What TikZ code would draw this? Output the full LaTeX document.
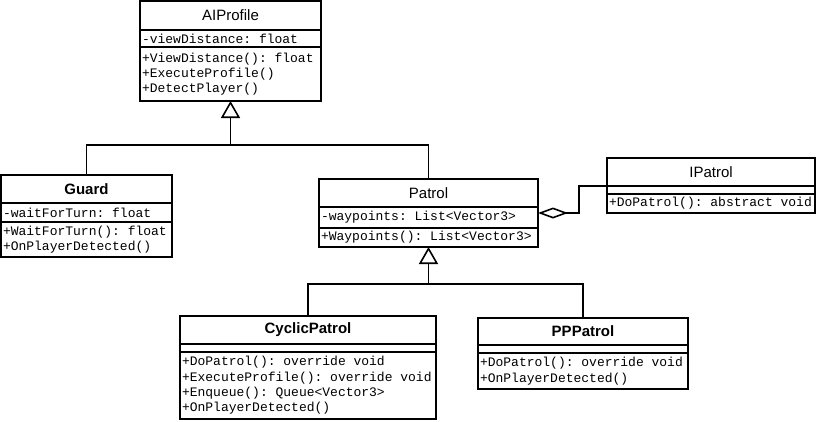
\documentclass[tikz,border=0pt]{standalone}
\usepackage{fontspec}
\setmainfont{Liberation Sans}
\setmonofont{Liberation Mono}
\usetikzlibrary{positioning,arrows.meta}

\tikzset{
  umlname/.style={draw, line width=1.6pt, outer sep=0pt, anchor=north west, font=\fontsize{15}{18}\selectfont},
  umlpart/.style={draw, line width=1.6pt, outer sep=0pt, inner xsep=2pt, inner ysep=2pt, align=flush left, font=\ttfamily\fontsize{13}{15.3}\selectfont\frenchspacing},
  link/.style={line width=1.6pt},
  inherit/.style={link, -{Triangle[open, length=17pt, width=19pt]}},
  aggregate/.style={link, -{Diamond[open, length=30pt, width=11pt]}},
}

\begin{document}
\begin{tikzpicture}[x=1pt, y=-1pt]
\useasboundingbox (0,0) rectangle (820,421);

% base class
\node[umlname, minimum width=181pt, minimum height=29pt] (aiprofile) at (140,1) {AIProfile};
\node[umlpart, text width=177pt, minimum height=17pt, below=0pt of aiprofile] (aiattr) {-viewDistance: float};
\node[umlpart, text width=177pt, minimum height=54pt, below=0pt of aiattr] (aiops) {+ViewDistance(): float\\+ExecuteProfile()\\+DetectPlayer()};

% guard
\node[umlname, minimum width=171pt, minimum height=28pt, font=\fontsize{15}{18}\selectfont\bfseries] (guard) at (1,175) {Guard};
\node[umlpart, text width=167pt, minimum height=19pt, below=0pt of guard] (guardattr) {-waitForTurn: float};
\node[umlpart, text width=167pt, minimum height=35pt, below=0pt of guardattr] (guardops) {+WaitForTurn(): float\\+OnPlayerDetected()};

% patrol
\node[umlname, minimum width=219pt, minimum height=28pt] (patrol) at (319,179) {Patrol};
\node[umlpart, text width=215pt, minimum height=21pt, below=0pt of patrol] (patattr) {-waypoints: List<Vector3>};
\node[umlpart, text width=215pt, minimum height=19pt, below=0pt of patattr] (patops) {+Waypoints(): List<Vector3>};

% interface
\node[umlname, minimum width=208pt, minimum height=28pt] (iptitle) at (607,158) {IPatrol};
\node[umlpart, text width=204pt, minimum height=8pt, below=0pt of iptitle] (ipattr) {};
\node[umlpart, text width=204pt, minimum height=19pt, below=0pt of ipattr] (ipops) {+DoPatrol(): abstract void};

% cyclic patrol
\node[umlname, minimum width=256pt, minimum height=28pt, font=\fontsize{15}{18}\selectfont\bfseries] (cyclic) at (180,316) {CyclicPatrol};
\node[umlpart, text width=252pt, minimum height=8pt, below=0pt of cyclic] (cyclicattr) {};
\node[umlpart, text width=252pt, minimum height=67pt, below=0pt of cyclicattr] (cyclicops) {+DoPatrol(): override void\\+ExecuteProfile(): override void\\+Enqueue(): Queue<Vector3>\\+OnPlayerDetected()};

% pp patrol
\node[umlname, minimum width=210pt, minimum height=27pt, font=\fontsize{15}{18}\selectfont\bfseries] (pppatrol) at (478,318) {PPPatrol};
\node[umlpart, text width=206pt, minimum height=8pt, below=0pt of pppatrol] (ppattr) {};
\node[umlpart, text width=206pt, minimum height=36pt, below=0pt of ppattr] (ppops) {+DoPatrol(): override void\\+OnPlayerDetected()};

% generalisation
\coordinate (topbus) at (230.5,145);
\draw[link] (guard.north) |- (topbus) -| (patrol.north);
\draw[inherit] (topbus) -- (aiops.south);
\coordinate (lowbus) at (428.5,284);
\draw[link] (cyclic.north) |- (lowbus) -| (pppatrol.north);
\draw[inherit] (lowbus) -- (patops.south);

% aggregation
\draw[aggregate] (iptitle.south west) -- ++(-28,0) |- ([yshift=-6pt]patattr.north east);
\end{tikzpicture}
\end{document}
